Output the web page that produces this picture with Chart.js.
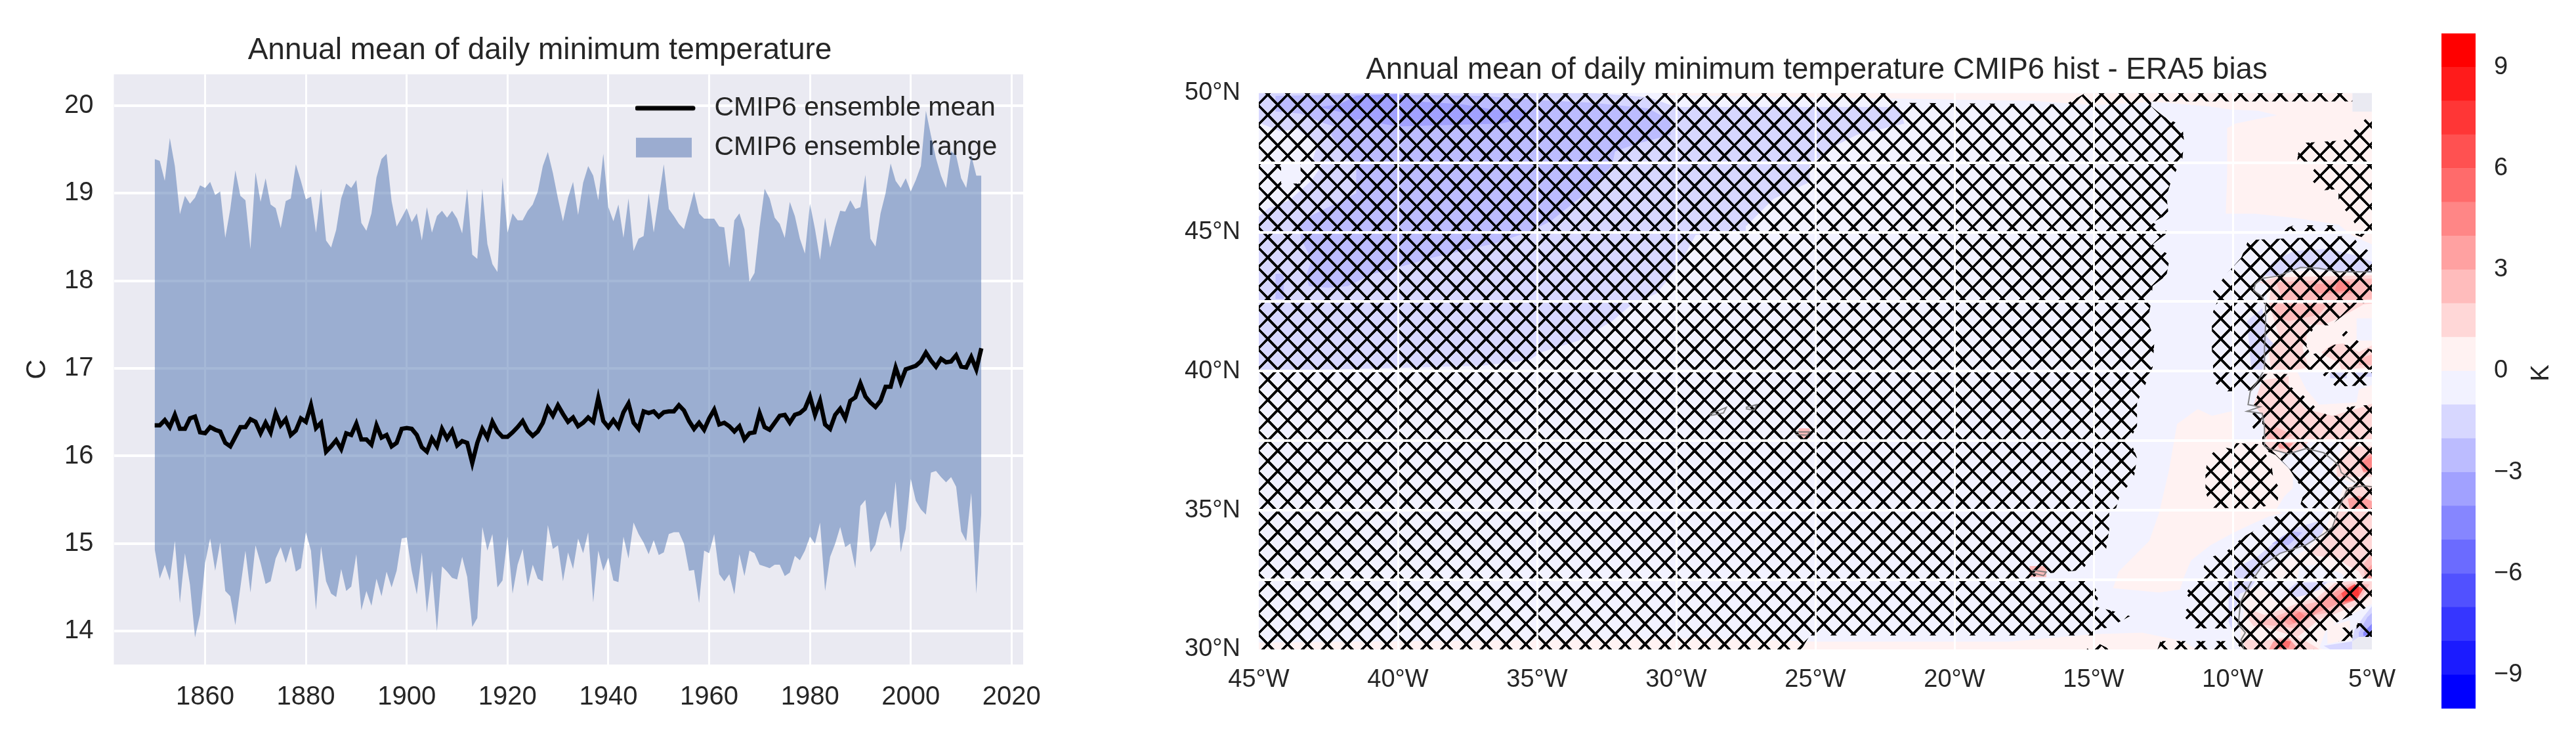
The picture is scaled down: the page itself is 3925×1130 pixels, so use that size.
<!DOCTYPE html>
<html><head><meta charset="utf-8">
<style>html,body{margin:0;background:#fff;width:3925px;height:1130px;overflow:hidden}canvas{position:absolute;top:0}</style>
<script src="https://cdn.jsdelivr.net/npm/chart.js@4"></script></head>
<body>
<canvas id="lineChart" width="1646" height="1130" style="left:0"></canvas>
<canvas id="mapChart" width="2000" height="1130" style="left:1768px"></canvas>
<canvas id="barChart" width="245" height="1130" style="left:3680px"></canvas>
<script>
const FONT='"Liberation Sans",Arial,sans-serif', INK='#262626', PLOT_BG='#eaeaf2';
const firstYear=1850;
const rangeUpper=[
19.39,19.37,19.14,19.63,19.31,18.76,18.97,18.88,18.95,19.09,
19.06,19.13,18.98,19.02,18.49,18.82,19.26,18.97,18.92,18.36,
19.24,18.90,19.17,18.87,18.83,18.60,18.91,18.94,19.33,19.14,
18.93,18.96,18.55,19.05,18.46,18.38,18.58,18.94,19.11,19.06,
19.15,18.66,18.57,18.77,19.18,19.39,19.45,18.91,18.62,18.72,
18.83,18.67,18.77,18.46,18.84,18.55,18.74,18.80,18.72,18.80,
18.71,18.54,19.05,18.30,18.25,19.05,18.42,18.19,18.10,19.18,
18.55,18.77,18.69,18.69,18.80,18.87,19.02,19.31,19.47,19.23,
18.94,18.68,18.95,19.13,18.75,19.12,19.31,19.20,18.92,19.45,
18.84,18.68,18.87,18.49,18.94,18.34,18.48,18.51,19.00,18.55,
18.94,19.33,18.82,18.74,18.65,18.59,18.80,19.02,18.77,18.71,
18.71,18.71,18.62,18.61,18.15,18.69,18.77,18.59,17.99,18.09,
18.61,19.05,18.94,18.72,18.65,18.49,18.90,18.74,18.48,18.31,
18.88,18.59,18.24,18.72,18.38,18.61,18.80,18.79,18.92,18.82,
18.84,19.21,18.48,18.39,18.77,19.00,19.34,19.14,19.06,19.17,
19.02,19.15,19.31,19.94,19.66,19.40,19.20,19.06,19.48,19.43,
19.17,19.06,19.43,19.20,19.20];
const rangeLower=[
14.94,14.60,14.76,14.58,15.03,14.32,14.89,14.53,13.93,14.19,
14.78,15.06,14.69,15.01,14.46,14.40,14.07,14.50,14.92,14.44,
14.98,14.78,14.54,14.57,14.83,14.96,14.78,14.97,14.68,14.72,
15.13,14.92,14.24,14.97,14.57,14.43,14.39,14.71,14.46,14.51,
14.88,14.24,14.46,14.29,14.60,14.40,14.68,14.50,14.69,15.06,
15.07,14.69,14.42,14.90,14.21,14.69,14.00,14.74,14.68,14.61,
14.59,14.85,14.62,14.05,14.15,15.19,14.92,15.11,14.50,14.58,
15.08,14.43,14.76,14.94,14.51,14.76,14.60,14.57,15.21,14.94,
14.98,14.57,14.90,14.71,15.06,14.89,15.13,14.33,14.92,14.69,
14.84,14.58,14.56,15.08,14.83,15.24,15.11,15.01,14.88,15.04,
14.87,14.90,15.11,15.13,15.13,15.00,14.69,14.70,14.32,14.92,
14.89,15.11,14.65,14.57,14.65,14.42,14.88,14.63,14.92,14.89,
14.76,14.74,14.72,14.76,14.76,14.63,14.67,14.86,14.81,14.92,
15.08,15.00,15.24,14.46,14.85,15.00,15.19,14.96,15.00,14.72,
15.43,15.50,14.90,14.99,15.26,15.37,15.17,15.71,14.90,15.17,
15.74,15.49,15.39,15.33,15.81,15.83,15.76,15.70,15.76,15.65,
15.14,15.03,15.58,14.43,15.36];
const ensembleMean=[
16.35,16.35,16.41,16.33,16.47,16.31,16.31,16.43,16.45,16.27,
16.26,16.33,16.30,16.28,16.15,16.11,16.22,16.33,16.33,16.42,
16.39,16.26,16.38,16.27,16.49,16.35,16.42,16.24,16.29,16.43,
16.39,16.58,16.32,16.38,16.05,16.11,16.18,16.08,16.26,16.24,
16.37,16.19,16.19,16.13,16.35,16.21,16.24,16.11,16.15,16.31,
16.32,16.31,16.24,16.10,16.05,16.20,16.11,16.31,16.20,16.29,
16.12,16.17,16.15,15.92,16.15,16.31,16.21,16.39,16.28,16.22,
16.22,16.27,16.33,16.40,16.29,16.23,16.28,16.38,16.55,16.46,
16.58,16.48,16.39,16.44,16.34,16.38,16.44,16.39,16.66,16.40,
16.33,16.41,16.33,16.50,16.60,16.38,16.31,16.51,16.49,16.51,
16.45,16.50,16.51,16.51,16.58,16.52,16.40,16.31,16.38,16.30,
16.43,16.53,16.36,16.38,16.34,16.28,16.34,16.19,16.26,16.27,
16.49,16.33,16.30,16.38,16.46,16.47,16.38,16.47,16.49,16.54,
16.68,16.47,16.63,16.36,16.31,16.47,16.54,16.43,16.63,16.67,
16.83,16.68,16.61,16.56,16.63,16.79,16.79,17.01,16.84,16.99,
17.01,17.03,17.08,17.18,17.09,17.02,17.11,17.07,17.08,17.15,
17.02,17.01,17.13,16.99,17.23];
const yearTicks=[1860,1880,1900,1920,1940,1960,1980,2000,2020];
const tempTicks=[14,15,16,17,18,19,20];
const legendLabels=['CMIP6 ensemble mean','CMIP6 ensemble range'];
const lonTicks=[-45,-40,-35,-30,-25,-20,-15,-10,-5];
const latTicks=[30,32.5,35,37.5,40,42.5,45,47.5,50];
const cbarLevels=[-10,-9,-8,-7,-6,-5,-4,-3,-2,-1,0,1,2,3,4,5,6,7,8,9];
const cbarTicks=[-9,-6,-3,0,3,6,9];

const biasBase=[-45,50,-5.7,50,-5.7,49.33,-5,49.33,-5,30.44,-5.7,30.44,-5.7,30,-45,30];
const biasBands=[
[-1.5,[-45,50,-33,50,-31,49.85,-30,49.5,-22,49.5,-21.8,48.9,-23.5,48.5,-24.5,48,-25.2,47.4,-25.2,46.8,-26.5,46.2,-27.5,45.2,-27.5,45,-29.3,44.9,-29.9,43.8,-30.7,42.8,-31.6,42.4,-32.3,41.8,-33.5,41.1,-34.8,40.7,-35.3,40.4,-37,40.2,-40.7,40.1,-45,40]],
[-0.5,[-45,48.94,-44.24,48.63,-43.6,48.7,-42.9,48.15,-43.06,47.6,-42.75,47.37,-43.14,46.82,-43.85,46.19,-44.17,46.03,-44.64,45.87,-45,45.56]],
[-2.5,[-44.4,49.9,-41,49.95,-37,49.9,-35,49.75,-33,49.65,-31,49.45,-30.2,49,-30.2,48.5,-31.5,48.15,-32.2,47.9,-32.3,47.4,-33,46.6,-33.5,46.2,-34.5,45.4,-35.2,45.05,-36.5,44.6,-38.7,44.1,-40.1,43.7,-40.9,43.5,-41.8,43.06,-42.5,43,-43.2,43.06,-43.3,43.45,-43.1,44,-43.5,44.8,-43.5,45.24,-43.1,45.6,-42.3,46,-41.5,46.4,-41.5,47.5,-42,47.9,-42.4,48.5,-42.3,48.8,-42.75,48.95,-43.5,49.26,-44.4,49.34]],
[-2.5,[-44.4,43.5,-44.1,43.5,-44.1,42.6,-44.4,42.6]],
[-3.5,[-42.83,49.5,-42.1,49.6,-41.5,49.9,-40,49.97,-39.3,49.7,-37.7,49.6,-36.5,49.4,-35.4,49.4,-35.4,49.1,-36.3,48.9,-40,48.8,-40.6,48.9,-41.2,49.1,-41.6,49,-42,49.3]],
[0.5,[-30.5,50,-5.7,50,-5.7,49.33,-5,49.33,-5,44.56,-5.7,44.87,-6.2,45.27,-7.7,45.5,-9.2,45.66,-10.25,45.66,-10.2,47.1,-10.2,48.74,-9.9,48.9,-9.2,49.05,-8.4,49.2,-9.1,49.37,-10.1,49.41,-10.9,49.53,-12.8,49.68,-15,49.57,-17.2,49.72,-22,49.8,-30.5,49.93]],
[0.5,[-12.09,37.6,-12,38.1,-11.26,38.64,-10.75,38.4,-10.04,38.56,-10,37.55,-8.6,37.55,-8.2,36.9,-8.3,36.8,-7.83,36.35,-7.84,35.8,-8.15,35.5,-8.3,35.25,-8.46,35,-8.2,34.9,-8.7,34.78,-9.25,34.54,-9.96,34.2,-10.8,33.75,-11.5,33.2,-11.75,32.6,-11.9,32.15,-12.65,32.05,-14.3,32.2,-14.1,32.8,-13,33.9,-12.65,34.9,-12.3,36.4]],
[0.5,[-45,30.25,-28.9,30.4,-24.9,30.28,-18.07,30.28,-15,30.55,-13.25,30.6,-11.8,30.3,-11.3,30,-45,30]],
[0.5,[-8.8,43.4,-8.44,43.41,-7.56,43.6,-5,43.5,-5,37.5,-8.8,37.5,-8.86,38.3,-9.25,38.8,-8.94,39.67,-8.7,40.7]],
[0.5,[-6.5,36.5,-5.9,37.5,-5,37.5,-5,36,-5.8,36]],
[0.5,[-6.3,35,-6,35.9,-5,36,-5,35]],
[0.5,[-6.4,35,-5,35,-5,32.5,-5.87,32.5,-6.1,32.73,-6.89,33.05,-7.6,33,-7.68,32.5,-8.7,32.5,-8.62,32.73,-8.39,33.13,-7.68,33.4,-7.28,33.65,-6.9,34.05,-6.6,34.5]],
[0.5,[-9.65,31.94,-9.41,32.18,-9.02,32.26,-8.7,32.02,-8.46,31.71,-7.68,31.94,-7.2,32.1,-6.5,32.42,-5,32.45,-5,31.63,-5.31,31.47,-6.1,31.08,-6.65,30.69,-6.89,30.06,-6.73,30,-9.72,30,-9.72,30.69,-9.61,31.31]],
[0.5,[-6.6,30.8,-5.8,31.05,-5.75,30.35,-6.6,30.2]],
[-0.5,[-5.55,41.9,-5,41.9,-5,41.1,-5.55,41.1]],
[-0.5,[-7.68,39.98,-5,39.98,-5,39.5,-5.47,39.35,-5.55,38.88,-6.9,38.8,-7.36,39.35]],
[-1.5,[-6.5,39.95,-5.9,39.95,-5.9,39.75,-6.5,39.75]],
[-1.5,[-5.6,39.95,-5,39.95,-5,39.8,-5.6,39.8]],
[-1.5,[-8.94,43.45,-8.56,43.93,-7.81,44.32,-6.56,44.4,-5.56,44.16,-5,43.93,-5,43.57,-6.2,43.57,-7.56,43.73,-8.44,43.41]],
[-1.5,[-9.41,41.87,-8.94,42.26,-8.78,41.24,-8.54,41,-8.78,40.69,-8.94,40.06,-9.33,40.06,-9.41,40.93,-9.49,41.79]],
[1.5,[-9.06,43.2,-8.4,43.38,-5,43.45,-5,42.43,-5.3,42.4,-6.1,41.95,-6.73,41.67,-7.28,41.67,-7.36,41.16,-7.5,40.85,-7.28,40.14,-7.68,40.06,-8.62,40.02,-8.7,40.7,-8.3,41.16,-8.7,42.42,-8.62,43.05]],
[2.5,[-8.44,43.2,-7.2,43.26,-5,43.33,-5,42.6,-6.2,42.5,-8.2,42.55]],
[2.5,[-8.54,42.42,-6.57,42.42,-6.9,42.03,-7.99,41.8,-8.39,41.95]],
[3.5,[-7.06,43.14,-5.7,43.14,-5.7,42.8,-7.06,42.8]],
[4.5,[-6.22,43.29,-5.79,43.21,-5.87,42.9,-6.34,42.86]],
[1.5,[-6.81,40.69,-6.42,40.96,-6.02,41,-5.47,40.69,-5,40.93,-5,40.14,-6.1,40.06,-6.17,40.3,-6.73,40.58]],
[2.5,[-5.47,40.45,-5,40.6,-5,40.22,-5.47,40.22]],
[1.5,[-8.94,39.67,-7.99,39.82,-7.99,39.35,-7.36,38.64,-6.42,38.4,-5.31,38.72,-5,38.84,-5,37.54,-8.86,37.54,-8.86,38.33,-9.25,38.8]],
[2.5,[-8.78,37.85,-8.46,38,-7.83,37.7,-8.2,37.54,-8.78,37.54]],
[1.5,[-8.86,37.46,-7.28,37.46,-7.52,37.22,-7.99,37.07,-8.62,37.14]],
[3.5,[-8.46,37.42,-7.83,37.42,-7.99,37.22,-8.31,37.22]],
[1.5,[-6.26,36.59,-5.79,37.3,-5,37.3,-5,36.2,-6.26,36.2]],
[3.5,[-5.47,36.75,-5,37.07,-5,36.36,-5.31,36.36]],
[4.5,[-5.4,36.7,-5,36.95,-5,36.45,-5.3,36.4]],
[1.5,[-5.94,35.72,-5.55,35.96,-5,35.88,-5,35,-6.18,35,-6.1,35.33]],
[3.5,[-5.87,35.41,-5.47,35.53,-5,35.33,-5,35.05,-5.79,35.05]],
[1.5,[-6.26,34.97,-5,34.97,-5,32.53,-5.31,32.53,-5.47,32.81,-5.94,33.05,-6.18,33.28,-6.97,33.36,-7.28,33.52,-6.73,33.99,-6.42,34.39]],
[2.5,[-5.31,33.05,-5,33.44,-5,32.53,-5.24,32.53]],
[3.5,[-5.16,32.9,-5,33.05,-5,32.53,-5.12,32.53]],
[-1.5,[-9.92,32.57,-9.92,32.89,-9.09,33.36,-8.7,33.68,-8.23,34.07,-7.68,34.39,-6.89,34.62,-6.65,34.46,-6.81,34.15,-7.36,33.76,-7.99,33.56,-8.62,33.28,-9.09,32.81,-9.41,32.53]],
[-2.5,[-8.6,33.8,-7.9,34.25,-7.5,34.2,-8.0,33.75]],
[1.5,[-9.45,31.47,-8.86,31.24,-8.15,31.47,-7.52,31.71,-6.97,31.87,-6.34,32.38,-5.87,32.45,-5,32.45,-5,31.94,-5.39,31.63,-5.87,31.47,-6.42,31.24,-6.89,31.08,-7.36,30.69,-7.68,30.45,-7.99,30.53,-8.23,30.61,-8.7,30.76,-9.25,30.84,-9.49,31.16]],
[2.5,[-9.25,31.08,-8.86,31.04,-8.15,31.31,-7.68,31.55,-6.97,31.71,-6.34,32.18,-5.71,32.38,-5.08,32.34,-5.39,31.87,-5.94,31.63,-6.57,31.31,-7.05,31.24,-7.52,30.92,-7.83,30.76,-8.31,30.84,-8.86,30.88]],
[3.5,[-8.31,31.12,-7.76,31.39,-7.36,31.31,-6.97,31.63,-6.26,32.1,-5.71,32.3,-5.31,32.18,-5.63,31.79,-6.26,31.63,-6.97,31.31,-7.52,31,-7.99,30.88]],
[4.5,[-6.42,31.79,-5.71,32.3,-5.31,32.22,-5.55,31.79,-6.1,31.59]],
[4.5,[-7.99,31.1,-7.6,31.35,-7.4,31.2,-7.8,30.95]],
[6.5,[-6.1,32.02,-5.63,32.34,-5.31,32.18,-5.55,31.79,-5.98,31.71]],
[7.5,[-5.79,32.18,-5.47,32.26,-5.47,31.94,-5.71,31.87]],
[1.5,[-9.61,30.29,-9.49,30.37,-8.94,30.29,-8.39,30.41,-7.68,30.45,-7.36,30.29,-6.97,30.06,-6.89,30,-9.57,30]],
[3.5,[-8.54,30.29,-7.99,30.41,-7.68,30.06,-7.76,30,-8.7,30]],
[5.5,[-8.23,30.33,-7.91,30.29,-7.99,30.06,-8.39,30.06]],
[-1.5,[-8.07,32.1,-7.7,32.4,-6.6,32.42,-6.9,32.15,-7.4,31.95,-7.75,31.87]],
[-1.5,[-10.15,32.45,-9.2,32.45,-9.4,32.15,-9.75,32,-9.95,31.2,-9.98,30.6,-10.15,31]],
[-1.5,[-5.63,30.69,-5.31,31.16,-5,31.55,-5,30.45,-5.47,30.45,-5.71,30.29]],
[-2.5,[-5.47,30.61,-5.16,31.16,-5,31.31,-5,30.45,-5.47,30.45]],
[-4.5,[-5.31,30.61,-5,30.92,-5,30.49,-5.31,30.49]],
[-1.5,[-6.73,30.13,-5.71,30.29,-5.71,30,-6.5,30]],
[2.5,[-25.6,37.95,-25.2,37.95,-25.2,37.6,-25.6,37.6]],
[2.5,[-17.3,33,-16.7,33,-16.7,32.6,-17.3,32.6]]
];
// Areas where the bias is hatched (not significant), [lon,lat, ...]
const hatchAreas=[
[-45,50,-31.7,50,-31.3,49.75,-30.9,50,-22.5,50,-22,49.65,-16,49.6,-15.3,50,-12.9,50,-12.94,49.53,-12.44,49.13,-11.81,48.82,-11.75,48.26,-11.81,47.63,-12.19,46.92,-12.38,46.29,-12.31,45.66,-12.88,45.35,-12.31,45,-12.88,44.56,-12.25,44.16,-12.38,43.45,-12.88,43.06,-12.94,42.43,-13.06,41.8,-12.81,41.17,-12.88,40.14,-13.06,39.7,-13.44,38.87,-13.44,38.04,-13.69,37.54,-13.44,36.88,-13.56,36.12,-14.06,35.54,-14.19,35.08,-14.44,34.96,-14.44,34.29,-14.56,33.54,-15.06,33.38,-15.4,32.85,-17,32.7,-17.3,32.5,-15.13,32.54,-14.81,31.96,-14.94,31.54,-14.31,31.38,-13.69,31.2,-14.44,30.79,-14.94,30.71,-15,30.5,-24.7,30.5,-25.2,30.5,-25.5,30,-45,30],
[-12.9,50,-5.7,50,-5.7,49.7,-12.9,49.7],
[-5,49.3,-5.6,48.7,-6,48.3,-7.6,48.2,-7.7,47.45,-6.9,47.45,-7.3,47,-6.8,46.5,-6.2,46.55,-6.2,46,-5.8,45.65,-5.5,45.1,-5.6,44.9,-5,44.7],
[-8.5,45,-7.8,45.25,-6.4,45.25,-6.2,45],
[-9.44,44.72,-5.7,44.87,-5.5,44.6,-5,44.24,-5,42.5,-5.55,42.42,-6.1,41.95,-6.5,41.65,-7,41.65,-7.3,41.25,-7.35,40.9,-7.2,40.6,-6.81,40.69,-6.34,40.96,-5.47,40.93,-5,40.77,-5,40.05,-10.7,40.05,-10.75,40.77,-10.75,41.25,-10.75,42.03,-10.56,42.5,-10.75,42.82,-10.19,43.53,-9.69,44.09],
[-6.3,41.55,-6.1,41.6,-5.4,41,-5.7,40.9],
[-10.7,40,-8.94,40,-8.94,39.9,-9.02,39.35,-9.5,39.3,-10.35,39.27,-10.7,39.67],
[-8.94,39.9,-7.99,39.9,-7.91,39.43,-7.52,39.19,-7.05,38.72,-6.57,38.4,-6.18,38.4,-5.87,38.72,-5,38.8,-5,35,-7.6,35.09,-7.44,35.65,-7.68,36.04,-7.99,36.52,-8.46,36.99,-8.94,37.2,-8.94,38.56,-9.25,38.8,-9.02,39.35],
[-6.9,40,-5,40,-5,39.5,-6.3,39.45],
[-9.49,38.33,-9.17,38.56,-8.94,38.33,-9.09,37.93,-9.25,37.93],
[-10.9,36.9,-10.47,37.3,-10,37.2,-9.88,37.42,-9.09,37.38,-8.62,36.75,-8.54,36.12,-8.31,35.8,-8.39,35.33,-9.09,35.05,-10.75,35.09,-10.98,35.65,-10.98,36.35],
[-8.15,35,-5,35,-5,32.5,-11.22,32.5,-11.14,32.73,-10.91,33.28,-10.28,33.48,-10.04,33.68,-9.88,33.83,-9.57,34.07,-9.02,34.39],
[-11.34,32.5,-5,32.5,-5,31.6,-5.6,31.3,-6.3,30.95,-6.9,30.5,-7.1,30,-9.7,30,-9.95,30.4,-10.05,30.75,-11.38,30.76,-11.85,31.31,-11.38,31.63,-11.69,32.02],
[-6.2,30.75,-5.7,30.85,-5.7,30.3,-6.2,30.3],
[-5.55,30.95,-5,30.9,-5,30.45,-5.55,30.45],
[-12.7,30,-12.6,30.3,-10.1,30.3,-10.06,30],
[-15.25,30,-15,30.3,-14.4,30]
];
const hatchHoles=[[-44.2,47.45,-43.5,47.45,-43.5,46.75,-44.2,46.75]];
// Coastlines, [lon,lat, ...]
const coastIberia=[-5,43.57,-6.2,43.57,-6.9,43.7,-7.56,43.73,-8.44,43.41,-8.94,43.34,-9.19,43.14,-9.25,42.9,-8.94,42.67,-8.82,42.42,-8.82,41.63,-8.86,40.85,-8.86,40.06,-9.09,39.67,-9.37,39.27,-9.45,38.8,-9.02,38.72,-9.49,38.56,-8.94,38.48,-8.86,38,-8.86,37.3,-8.7,37.22,-7.99,37.03,-7.36,37.22,-6.73,37.07,-6.34,36.75,-6.18,36.6,-6.1,36.36,-5.6,36];
const coastMorocco=[-5,35.85,-5.31,35.88,-5.87,35.8,-6.18,35.08,-6.42,34.39,-6.73,34.15,-7.36,33.76,-8.31,33.45,-8.94,33.0,-9.33,32.45,-9.72,31.7,-9.8,30.9,-9.55,30.6,-9.7,30.35,-9.6,30];
const coastAzores=[-28.8,38.45,-28.2,38.7,-28.3,38.5,-28.8,38.4];
const coastAzoresEast=[-27.5,38.7,-27.1,38.8,-27.2,38.6,-27.5,38.65];
const coastSaoMiguel=[-25.7,37.82,-25.2,37.82,-25.3,37.7,-25.7,37.72];
const coastMadeira=[-17.2,32.85,-16.7,32.78,-16.8,32.65,-17.2,32.75];

function bandColor(lower){const t=(lower+10)/19;
  if(t<0.5){const c=Math.round(510*t);return `rgb(${c},${c},255)`;}
  const c=Math.round(510*(1-t));return `rgb(255,${c},${c})`;}
const centreColor=v=>bandColor(Math.floor(v));
const toPoints=a=>{const p=[];for(let i=0;i<a.length;i+=2)p.push({x:a[i],y:a[i+1]});return p;};
const plotBackground={id:'plotBackground',beforeDraw(c){const a=c.chartArea,x=c.ctx;x.save();x.fillStyle=PLOT_BG;x.fillRect(a.left,a.top,a.width,a.height);x.restore();}};
const fixAxis=(w,h)=>(s)=>{if(w!==null)s.width=w;if(h!==null)s.height=h;};
const tick=(size,pad,extra={})=>Object.assign({font:{family:FONT,size},color:INK,padding:pad,maxRotation:0,minRotation:0,autoSkip:false},extra);
const shiftTitle=dx=>({id:'shiftTitle',afterLayout(c){c.titleBlock.left+=dx;c.titleBlock.right+=dx;}});

// ---------- line chart ----------
const years=rangeUpper.map((_,i)=>firstYear+i);
const rows=(vals)=>vals.map((v,i)=>({x:years[i],y:v}));
function legendIcon(draw){const c=document.createElement('canvas');c.width=100;c.height=40;draw(c.getContext('2d'));return c;}
const meanIcon=legendIcon(g=>{g.strokeStyle='#000';g.lineWidth=7;g.lineCap='round';g.beginPath();g.moveTo(3,20);g.lineTo(88,20);g.stroke();});
const rangeIcon=legendIcon(g=>{g.fillStyle='rgb(155,172,208)';g.fillRect(1,5,85,30);});
new Chart(document.getElementById('lineChart'),{
  type:'scatter',
  data:{datasets:[
    {label:legendLabels[0],data:rows(ensembleMean),showLine:true,borderColor:'#000',borderWidth:6.5,pointRadius:0,fill:false,order:0},
    {label:legendLabels[1],data:rows(rangeUpper),showLine:true,borderWidth:0,pointRadius:0,fill:{target:2},backgroundColor:'rgba(76,114,176,0.5)',order:1},
    {label:'lower',data:rows(rangeLower),showLine:true,borderWidth:0,pointRadius:0,fill:false,order:2}
  ]},
  options:{responsive:false,devicePixelRatio:1,animation:false,
    layout:{padding:{left:0,right:87,top:0,bottom:0}},
    plugins:{tooltip:{enabled:false},
      title:{display:true,text:'Annual mean of daily minimum temperature',color:INK,font:{family:FONT,size:46,weight:'normal'},padding:{top:50,bottom:8}},
      legend:{position:'chartArea',align:'start',labels:{font:{family:FONT,size:41},color:INK,usePointStyle:true,pointStyleWidth:100,boxHeight:40,padding:19,
        generateLabels:()=>[
          {text:legendLabels[0],pointStyle:meanIcon,lineWidth:0,fontColor:INK,datasetIndex:0},
          {text:legendLabels[1],pointStyle:rangeIcon,lineWidth:0,fontColor:INK,datasetIndex:1}]}}},
    scales:{
      x:{type:'linear',min:1841.9,max:2022.3,afterFit:fixAxis(null,118),afterBuildTicks:a=>{a.ticks=yearTicks.map(v=>({value:v}));},
        grid:{color:'#fff',lineWidth:3,drawTicks:false},border:{display:false},ticks:tick(40,26,{callback:v=>String(v)})},
      y:{type:'linear',min:13.62,max:20.357,afterFit:fixAxis(173.5,null),afterBuildTicks:a=>{a.ticks=tempTicks.map(v=>({value:v}));},
        grid:{color:'#fff',lineWidth:4,drawTicks:false},border:{display:false},ticks:tick(40,31,{callback:v=>String(v)}),
        title:{display:true,text:'C',color:INK,font:{family:FONT,size:42},padding:{top:32,bottom:0}}}
    }},
  plugins:[plotBackground,shiftTitle(43),{id:'placeLegend',afterLayout(c){const l=c.legend;l.left=949;l.top=c.chartArea.top+12;}}]
});

// ---------- bias map ----------
const TILE_X=4,TILE=[121,124];
const tile=document.createElement('canvas');tile.width=TILE[0];tile.height=TILE[1];
{const g=tile.getContext('2d'),w=TILE[0],h=TILE[1];g.strokeStyle='#000';g.lineWidth=3.8*TILE_X;
 for(const d of[-w,0,w]){g.beginPath();g.moveTo(d,0);g.lineTo(d+w,h);g.stroke();g.beginPath();g.moveTo(d,h);g.lineTo(d+w,0);g.stroke();}}
const hatch=tile.getContext('2d').createPattern(tile,'repeat');
hatch.setTransform(new DOMMatrix([1/TILE_X,0,0,1/TILE_X,163.7,144]));

const polygon=(pts,fillStyle)=>({data:toPoints(pts),showLine:true,borderWidth:0,pointRadius:0,fill:'shape',backgroundColor:fillStyle,borderColor:'transparent'});
const coast=(pts)=>({data:toPoints(pts),showLine:true,borderWidth:2,pointRadius:0,fill:false,borderColor:'rgba(120,120,120,0.9)'});
const layers=[
  polygon(biasBase,centreColor(-0.5)),
  ...biasBands.map(([v,p])=>polygon(p,centreColor(v))),
  ...hatchAreas.map(p=>polygon(p,hatch)),
  ...hatchHoles.map(p=>polygon(p,centreColor(-0.5))),
  coast(coastIberia),coast(coastMorocco),coast(coastAzores),coast(coastAzoresEast),coast(coastSaoMiguel),coast(coastMadeira)
];
layers.forEach((d,i)=>{d.order=layers.length-i;});
const lonLabel=v=>`${Math.abs(v)}°W`;
new Chart(document.getElementById('mapChart'),{
  type:'scatter',data:{datasets:layers},
  options:{responsive:false,devicePixelRatio:1,animation:false,
    layout:{padding:{left:0,right:154,top:0,bottom:0}},
    plugins:{tooltip:{enabled:false},legend:{display:false},
      title:{display:true,text:'Annual mean of daily minimum temperature CMIP6 hist - ERA5 bias',color:INK,font:{family:FONT,size:45.6,weight:'normal'},padding:{top:80,bottom:7}},
      },
    scales:{
      x:{type:'linear',min:-45,max:-5,afterFit:fixAxis(null,141),afterBuildTicks:a=>{a.ticks=lonTicks.map(v=>({value:v}));},
        grid:{z:1,lineWidth:3,drawTicks:false,color:c=>(c.tick&&(c.tick.value===-45||c.tick.value===-5))?'rgba(0,0,0,0)':'#fff'},border:{display:false},
        ticks:tick(38,24,{callback:lonLabel})},
      y:{type:'linear',min:30,max:50,afterFit:fixAxis(150,null),afterBuildTicks:a=>{a.ticks=latTicks.map(v=>({value:v}));},
        grid:{z:1,lineWidth:4,drawTicks:false,color:c=>(c.tick&&(c.tick.value===30||c.tick.value===50))?'rgba(0,0,0,0)':'#fff'},border:{display:false},
        ticks:tick(38,28,{callback:v=>Number.isInteger(v/5)?`${v}°N`:''})}
    }},
  plugins:[plotBackground,shiftTitle(77)]
});

// ---------- colour bar ----------
const fmtMinus=v=>v<0?`\u2212${-v}`:String(v);
new Chart(document.getElementById('barChart'),{
  type:'bar',
  data:{labels:['K'],datasets:cbarLevels.map(l=>({data:[[l,l+1]],backgroundColor:bandColor(l),grouped:false,barPercentage:1,categoryPercentage:1,borderSkipped:false,borderWidth:0}))},
  options:{responsive:false,devicePixelRatio:1,animation:false,
    layout:{padding:{left:40,right:0,top:50,bottom:47}},
    plugins:{tooltip:{enabled:false},legend:{display:false}},
    scales:{
      x:{display:false},
      y:{position:'right',min:-10,max:10,afterFit:fixAxis(153,null),afterBuildTicks:a=>{a.ticks=cbarTicks.map(v=>({value:v}));},
        grid:{display:false,drawTicks:false},border:{display:false},ticks:tick(38,28,{callback:fmtMinus})}
    }},
  plugins:[{id:'cbarLabel',afterDraw(c){const g=c.ctx;g.save();g.translate(193,568);g.rotate(-Math.PI/2);g.font=`38px ${FONT}`;g.fillStyle=INK;g.textAlign='center';g.textBaseline='middle';g.fillText('K',0,0);g.restore();}}]
});
</script>
</body></html>
